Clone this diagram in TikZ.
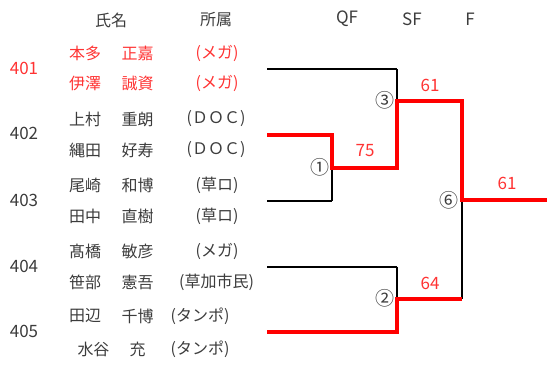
\documentclass[tikz,border=0pt]{standalone}
\usepackage{fontspec}
\setmainfont{Noto Sans CJK JP}
\definecolor{txtgray}{RGB}{60,60,60}
\definecolor{txtred}{RGB}{255,51,51}
\definecolor{linered}{RGB}{255,0,0}
\tikzset{
  lbl/.style={font=\fontsize{16}{16}\selectfont, text=txtgray, inner sep=0pt, anchor=center},
  rlbl/.style={lbl, text=txtred},
  num/.style={font=\fontsize{17}{17}\selectfont, text=txtgray, inner sep=0pt, anchor=center},
  rnum/.style={num, text=txtred},
  circ/.style={font=\fontsize{19}{19}\selectfont, text=txtgray, inner sep=0pt, anchor=center},
  winline/.style={draw=linered, line width=4pt, line join=miter},
  loseline/.style={draw=black, line width=1.8pt},
  thinline/.style={draw=black, line width=1.1pt},
}
\begin{document}
\begin{tikzpicture}[x=1pt,y=-1pt]
\useasboundingbox (0,0) rectangle (547,365);
% headers
\node[lbl] (hname) at (111,20) {氏名};
\node[lbl] (haff) at (216,20) {所属};
\node[num] (hqf) at (347,19) {QF};
\node[num] (hsf) at (412,19) {SF};
\node[num] (hf) at (470,19) {F};
% seeds
\node[rnum] (s401) at (24,68) {401};
\node[num] (s402) at (24,133) {402};
\node[num] (s403) at (24,200) {403};
\node[num] (s404) at (24,266) {404};
\node[num] (s405) at (24,331) {405};
% names
\node[rlbl] (n1a) at (85,53) {本多};
\node[rlbl] (n1b) at (137.5,53) {正嘉};
\node[rlbl] (a1) at (217,53) {(メガ)};
\node[rlbl] (n2a) at (85,83) {伊澤};
\node[rlbl] (n2b) at (137.5,83) {誠資};
\node[rlbl] (a2) at (217,83) {(メガ)};
\node[lbl] (n3a) at (85,119) {上村};
\node[lbl] (n3b) at (137.5,119) {重朗};
\node[lbl] (a3) at (216,119) {(ＤＯＣ)};
\node[lbl] (n4a) at (85,150) {縄田};
\node[lbl] (n4b) at (137.5,150) {好寿};
\node[lbl] (a4) at (216,150) {(ＤＯＣ)};
\node[lbl] (n5a) at (85,185) {尾崎};
\node[lbl] (n5b) at (137.5,185) {和博};
\node[lbl] (a5) at (217,185) {(草ロ)};
\node[lbl] (n6a) at (85,216) {田中};
\node[lbl] (n6b) at (137.5,216) {直樹};
\node[lbl] (a6) at (217,216) {(草ロ)};
\node[lbl] (n7a) at (85,251) {髙橋};
\node[lbl] (n7b) at (137.5,251) {敏彦};
\node[lbl] (a7) at (217,251) {(メガ)};
\node[lbl] (n8a) at (85,282) {笹部};
\node[lbl] (n8b) at (137.5,282) {憲吾};
\node[lbl] (a8) at (216.5,282) {(草加市民)};
\node[lbl] (n9a) at (85,316) {田辺};
\node[lbl] (n9b) at (137.5,316) {千博};
\node[lbl] (a9) at (200,316) {(タンポ)};
\node[lbl] (n10a) at (93.5,349) {水谷};
\node[lbl] (n10b) at (137.5,349) {充};
\node[lbl] (a10) at (200,349) {(タンポ)};
% bracket coordinates
\coordinate (e1) at (267,69);
\coordinate (e2) at (267,134.7);
\coordinate (e3) at (267,200.7);
\coordinate (e4) at (267,266.7);
\coordinate (e5) at (267,332.3);
\coordinate (q1t) at (332,134.7);
\coordinate (q1m) at (332,167.7);
\coordinate (q1b) at (332,200.7);
\coordinate (s1t) at (397,69);
\coordinate (s1m) at (397,101);
\coordinate (s1b) at (397,167.7);
\coordinate (s2t) at (397,266.7);
\coordinate (s2m) at (397,299);
\coordinate (s2b) at (397,332.3);
\coordinate (ft) at (462,101);
\coordinate (fm) at (462,200);
\coordinate (fb) at (462,299);
\coordinate (win) at (547,200);
% losing lines
\draw[loseline] (e1) -- (s1t);
\draw[thinline] (s1t) -- (s1m);
\draw[loseline] (e3) -- (q1b);
\draw[thinline] (q1b) -- (q1m);
\draw[loseline] (e4) -- (s2t);
\draw[thinline] (s2t) -- (s2m);
\draw[thinline] (fb) -- (fm);
% winning lines
\draw[winline] (e2) -- (q1t) -- (q1m) -- (s1b) -- (s1m) -- (ft) -- (fm) -- (win);
\draw[winline] (e5) -- (s2b) -- (s2m) -- (fb);
% match numbers
\node[circ] (m1) at (320,167) {①};
\node[circ] (m3) at (385,100) {③};
\node[circ] (m2) at (385,298) {②};
\node[circ] (m6) at (449,200) {⑥};
% scores
\node[rnum] (sc75) at (365,151) {75};
\node[rnum] (sc61a) at (430,85) {61};
\node[rnum] (sc64) at (430,283) {64};
\node[rnum] (sc61b) at (507,183) {61};
\end{tikzpicture}
\end{document}
